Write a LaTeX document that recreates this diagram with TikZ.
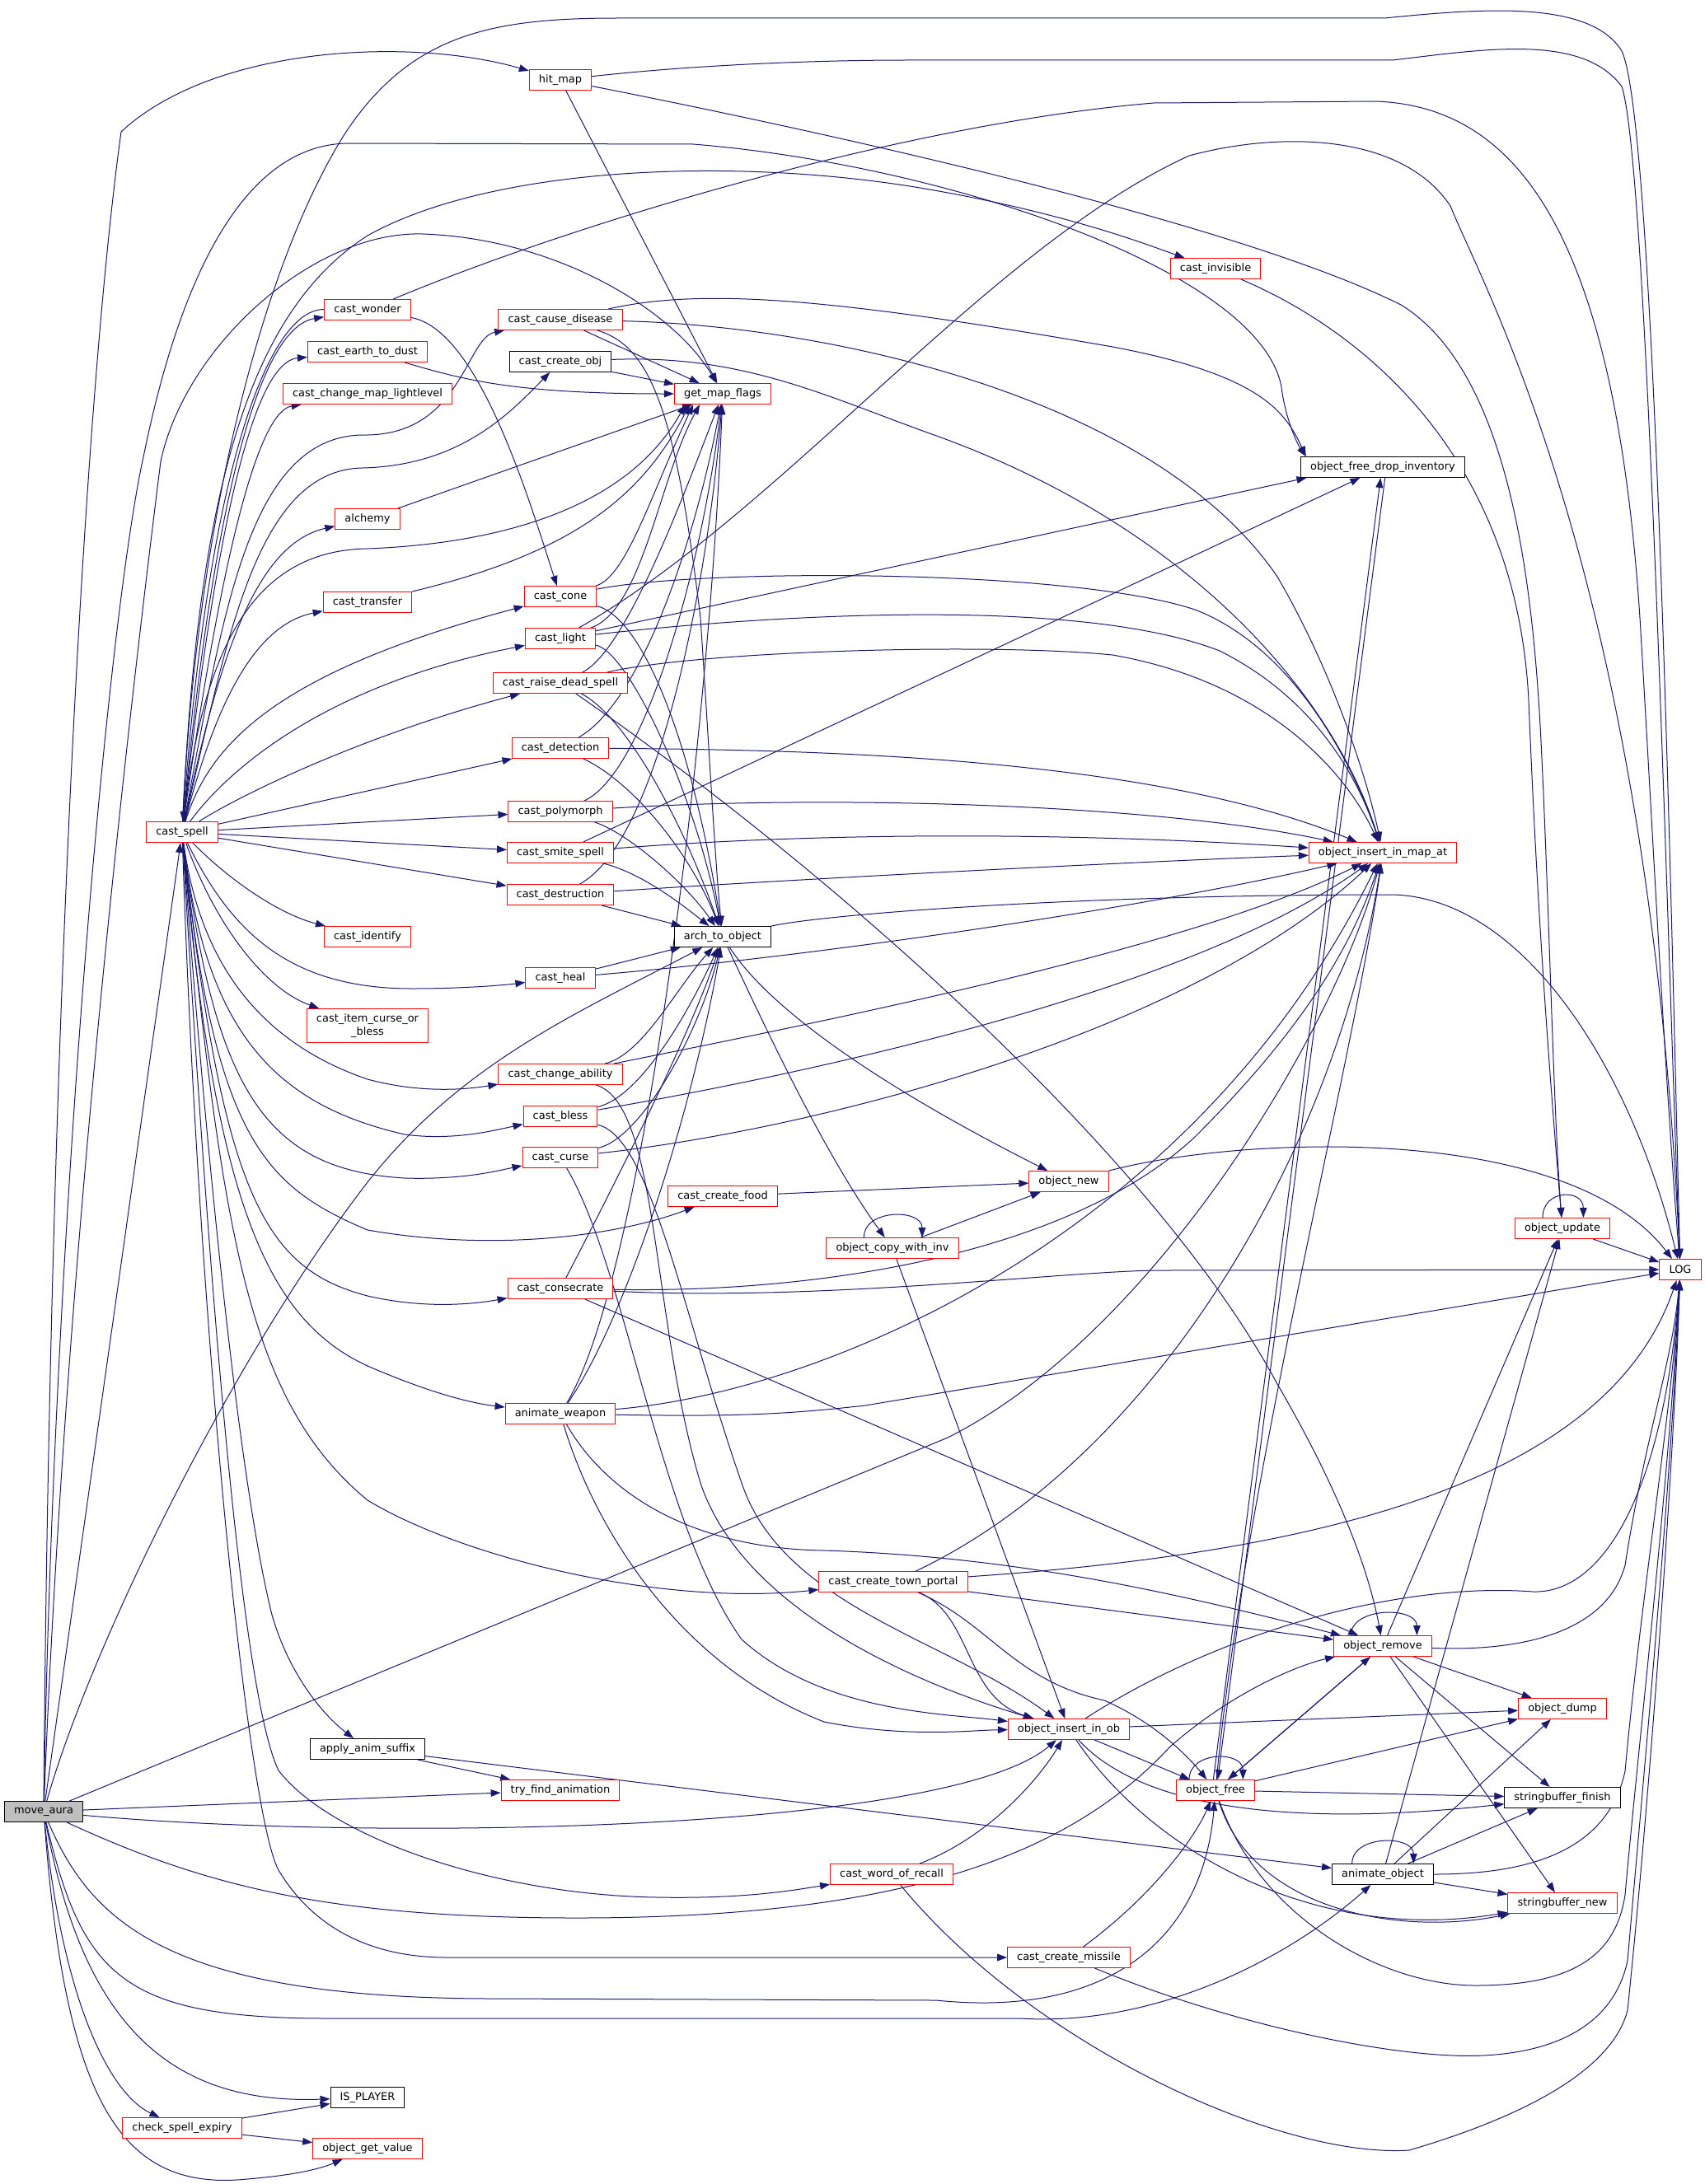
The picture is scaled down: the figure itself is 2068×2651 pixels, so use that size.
\documentclass[tikz,border=0pt]{standalone}
\usepackage{fontspec}
\setmainfont{DejaVu Sans}
\usepackage{tikz}
\usetikzlibrary{arrows.meta}
\pgfdeclarelayer{bg}
\pgfsetlayers{bg,main}
\definecolor{callblue}{RGB}{25,25,112}
\tikzset{
  fn/.style={draw=red, fill=white, line width=0.75pt, minimum height=18.75pt,
    inner xsep=8.7pt, inner ysep=1pt, font=\fontsize{9.7}{11.5}\selectfont},
  fndone/.style={fn, draw=black},
  fnroot/.style={fn, draw=black, fill=black!25},
  call/.style={draw=callblue, line width=0.75pt, -{Triangle[length=9pt,width=6.5pt]}}
}
\begin{document}
\begin{tikzpicture}[x=0.75pt, y=-0.75pt]
  \useasboundingbox (0,0) rectangle (2068,2651);
  \node[fnroot] (aura) at (53,2199) {move\_aura};
  \node[fn] (spell) at (221,1010) {cast\_spell};
  \node[fn] (expiry) at (221,2583) {check\_spell\_expiry};
  \node[fn] (wonder) at (446,376) {cast\_wonder};
  \node[fn] (earth) at (446,427) {cast\_earth\_to\_dust};
  \node[fn] (lightlvl) at (446,478) {cast\_change\_map\_lightlevel};
  \node[fn] (alchemy) at (446,630) {alchemy};
  \node[fn] (transfer) at (446,731) {cast\_transfer};
  \node[fn] (identify) at (446,1137) {cast\_identify};
  \node[fn, align=center, minimum height=30.75pt] (itemcurse) at (446,1245) {cast\_item\_curse\_or\\\_bless};
  \node[fndone] (animsuffix) at (446,2123) {apply\_anim\_suffix};
  \node[fndone] (isplayer) at (446,2546) {IS\_PLAYER};
  \node[fn] (getvalue) at (446,2608) {object\_get\_value};
  \node[fn] (hitmap) at (680,97) {hit\_map};
  \node[fn] (disease) at (680,388) {cast\_cause\_disease};
  \node[fndone] (createobj) at (680,439) {cast\_create\_obj};
  \node[fn] (cone) at (680,724) {cast\_cone};
  \node[fn] (light) at (680,775) {cast\_light};
  \node[fn] (raise) at (680,829) {cast\_raise\_dead\_spell};
  \node[fn] (detect) at (680,908) {cast\_detection};
  \node[fn] (poly) at (680,985) {cast\_polymorph};
  \node[fn] (smite) at (680,1035) {cast\_smite\_spell};
  \node[fn] (destruct) at (680,1086) {cast\_destruction};
  \node[fn] (heal) at (680,1187) {cast\_heal};
  \node[fn] (chability) at (680,1304) {cast\_change\_ability};
  \node[fn] (bless) at (680,1355) {cast\_bless};
  \node[fn] (curse) at (680,1405) {cast\_curse};
  \node[fn] (consec) at (680,1564) {cast\_consecrate};
  \node[fn] (animweap) at (680,1716) {animate\_weapon};
  \node[fn] (findanim) at (680,2173) {try\_find\_animation};
  \node[fn] (mapflags) at (877,478) {get\_map\_flags};
  \node[fndone] (arch) at (877,1137) {arch\_to\_object};
  \node[fn] (food) at (877,1452) {cast\_create\_food};
  \node[fn] (copyinv) at (1083,1515) {object\_copy\_with\_inv};
  \node[fn] (portal) at (1084,1920) {cast\_create\_town\_portal};
  \node[fn] (recall) at (1082,2275) {cast\_word\_of\_recall};
  \node[fn] (onew) at (1297,1434) {object\_new};
  \node[fn] (inob) at (1297,2099) {object\_insert\_in\_ob};
  \node[fn] (missile) at (1297,2376) {cast\_create\_missile};
  \node[fn] (invis) at (1475,326) {cast\_invisible};
  \node[fn] (ofree) at (1475,2173) {object\_free};
  \node[fndone] (dropinv) at (1678,567) {object\_free\_drop\_inventory};
  \node[fn] (inmap) at (1678,1035) {object\_insert\_in\_map\_at};
  \node[fn] (oremove) at (1678,1998) {object\_remove};
  \node[fndone] (animobj) at (1678,2275) {animate\_object};
  \node[fn] (oupdate) at (1896,1491) {object\_update};
  \node[fn] (odump) at (1896,2074) {object\_dump};
  \node[fndone] (sbfinish) at (1896,2182) {stringbuffer\_finish};
  \node[fn] (sbnew) at (1896,2310) {stringbuffer\_new};
  \node[fn] (log) at (2039,1541) {LOG};

  \begin{pgfonlayer}{bg}
  \fill[white] (0,0) rectangle (2068,2651);
  % move_aura
  \draw[call] (aura) -- (spell);
  \draw[call] (aura) .. controls (60,1300) and (100,500) .. (147,160) .. controls (260,55) and (500,45) .. (hitmap);
  \draw[call] (aura) .. controls (80,1500) and (165,800) .. (195,560) .. controls (225,420) and (380,280) .. (513,284) .. controls (680,290) and (820,380) .. (mapflags);
  \draw[call] (aura) .. controls (65,1500) and (130,750) .. (175,550) .. controls (210,380) and (280,174) .. (424,174) -- (841,175) .. controls (1150,200) and (1530,330) .. (1555,470) .. controls (1560,510) and (1575,540) .. ([xshift=5pt]dropinv.north west);
  \draw[call] (aura) .. controls (110,2000) and (280,1650) .. (446,1435) .. controls (560,1290) and (700,1230) .. (arch);
  \draw[call] (aura) -- (1150,1745) .. controls (1400,1620) and (1620,1250) .. (inmap);
  \draw[call] (aura) -- (findanim);
  \draw[call] (aura) .. controls (450,2235) and (1150,2225) .. (inob);
  \draw[call] (aura) .. controls (250,2290) and (400,2328) .. (700,2328) .. controls (1100,2328) and (1300,2250) .. (1420,2120) .. controls (1500,2050) and (1580,2020) .. (oremove);
  \draw[call] (aura) .. controls (110,2330) and (200,2426) .. (600,2426) -- (1136,2428) .. controls (1350,2450) and (1460,2350) .. (ofree);
  \draw[call] (aura) .. controls (100,2400) and (150,2450) .. (400,2450) -- (1238,2450) .. controls (1400,2460) and (1560,2380) .. (animobj);
  \draw[call] (aura) .. controls (100,2450) and (200,2555) .. (isplayer);
  \draw[call] (aura) .. controls (75,2420) and (130,2540) .. (expiry);
  \draw[call] (aura) .. controls (80,2560) and (150,2660) .. (300,2645) .. controls (360,2640) and (390,2632) .. (getvalue);
  \draw[call] (expiry) -- (isplayer);
  \draw[call] (expiry) -- (getvalue);
  % cast_spell
  \draw[call] (spell) .. controls (250,700) and (300,400) .. (wonder);
  \draw[call] (wonder) .. controls (330,375) and (255,550) .. (spell);
  \draw[call] (spell) .. controls (255,700) and (300,440) .. (earth);
  \draw[call] (spell) .. controls (265,700) and (310,500) .. (lightlvl);
  \draw[call] (spell) .. controls (270,750) and (300,530) .. (440,528) .. controls (560,530) and (565,410) .. (disease);
  \draw[call] (spell) .. controls (275,780) and (310,570) .. (440,568) .. controls (560,565) and (620,500) .. (createobj);
  \draw[call] (spell) .. controls (245,800) and (300,668) .. (446,666) .. controls (600,660) and (760,620) .. (mapflags.196);
  \draw[call] (spell) .. controls (265,800) and (310,660) .. (alchemy);
  \draw[call] (spell) .. controls (255,880) and (300,760) .. (transfer);
  \draw[call] (spell) .. controls (255,900) and (340,815) .. (cone);
  \draw[call] (spell) .. controls (280,930) and (400,830) .. (light);
  \draw[call] (spell) .. controls (300,960) and (450,890) .. (raise);
  \draw[call] (spell) -- (detect);
  \draw[call] (spell) -- (poly);
  \draw[call] (spell) -- (smite);
  \draw[call] (spell) -- (destruct);
  \draw[call] (spell) .. controls (280,1070) and (340,1110) .. (identify);
  \draw[call] (spell) .. controls (280,1130) and (350,1200) .. (500,1200) .. controls (560,1200) and (610,1196) .. (heal);
  \draw[call] (spell) .. controls (260,1120) and (320,1200) .. (itemcurse);
  \draw[call] (spell) .. controls (240,1150) and (300,1260) .. (446,1310) .. controls (520,1330) and (580,1320) .. (chability);
  \draw[call] (spell) .. controls (250,1250) and (330,1340) .. (491,1377) .. controls (550,1385) and (600,1372) .. (bless);
  \draw[call] (spell) .. controls (260,1320) and (320,1420) .. (491,1430) .. controls (560,1432) and (600,1422) .. (curse);
  \draw[call] (spell) .. controls (260,1380) and (320,1440) .. (446,1493) .. controls (600,1520) and (750,1500) .. (food);
  \draw[call] (spell) .. controls (270,1450) and (320,1540) .. (446,1573) .. controls (520,1590) and (580,1582) .. (consec);
  \draw[call] (spell) .. controls (260,1450) and (320,1600) .. (446,1658) .. controls (520,1690) and (570,1703) .. (animweap);
  \draw[call] (spell) .. controls (270,1500) and (300,1700) .. (446,1821) .. controls (560,1890) and (800,1950) .. (portal);
  \draw[call] (spell) .. controls (250,1400) and (290,1800) .. (330,1960) .. controls (350,2030) and (390,2080) .. (animsuffix);
  \draw[call] (spell) .. controls (250,1500) and (290,2050) .. (338,2149) .. controls (400,2230) and (600,2300) .. (797,2303) .. controls (900,2305) and (960,2295) .. (recall);
  \draw[call] (spell) .. controls (240,1600) and (300,2200) .. (338,2270) .. controls (380,2340) and (450,2376) .. (542,2376) -- (missile);
  \draw[call] (spell) .. controls (240,600) and (300,380) .. (446,286) .. controls (600,200) and (900,190) .. (1128,230) .. controls (1300,260) and (1400,300) .. (invis);
  \draw[call] (spell) .. controls (240,600) and (330,300) .. (420,160) .. controls (500,40) and (600,22) .. (750,22) -- (1680,22) .. controls (1800,10) and (1930,0) .. (1968,62) .. controls (2010,150) and (2030,1200) .. (log);
  % hit_map, cast_wonder
  \draw[call] (hitmap) .. controls (850,78) and (1000,73) .. (1100,73) -- (1690,73) .. controls (1800,60) and (1920,40) .. (1968,105) .. controls (2000,200) and (2025,1200) .. (log);
  \draw[call] (hitmap) -- (mapflags);
  \draw[call] (hitmap) .. controls (1000,160) and (1500,270) .. (1700,370) .. controls (1830,450) and (1860,700) .. (1870,900) .. controls (1880,1100) and (1885,1350) .. (oupdate);
  \draw[call] (wonder) .. controls (700,270) and (1100,150) .. (1400,125) -- (1670,123) .. controls (1850,130) and (1960,300) .. (1990,750) .. controls (2005,1000) and (2020,1300) .. (log);
  \draw[call] (wonder) .. controls (580,400) and (640,600) .. (cone);
  % get_map_flags
  \draw[call] (earth) .. controls (560,460) and (620,478) .. (mapflags);
  \draw[call] (alchemy) -- (mapflags);
  \draw[call] (transfer) .. controls (700,670) and (780,600) .. (mapflags.198);
  \draw[call] (disease) -- (mapflags);
  \draw[call] (createobj) -- (mapflags);
  \draw[call] (cone) .. controls (760,700) and (790,600) .. (mapflags.200);
  \draw[call] (light) .. controls (780,740) and (800,580) .. (mapflags.205);
  \draw[call] (raise) .. controls (760,790) and (830,600) .. (mapflags);
  \draw[call] (detect) .. controls (780,850) and (845,650) .. (mapflags);
  \draw[call] (poly) .. controls (780,940) and (850,700) .. (mapflags);
  \draw[call] (destruct) .. controls (800,1020) and (860,700) .. (mapflags);
  \draw[call] (animweap) .. controls (780,1550) and (860,900) .. (mapflags);
  % spells
  \draw[call] (disease) .. controls (850,350) and (1000,360) .. (1350,421) .. controls (1530,455) and (1560,500) .. ([xshift=5pt]dropinv.north west);
  \draw[call] (disease) .. controls (1000,395) and (1400,480) .. (1550,700) .. controls (1620,820) and (1660,950) .. (inmap);
  \draw[call] (disease) .. controls (790,420) and (820,500) .. (850,750) .. controls (860,900) and (868,1050) .. (arch);
  \draw[call] (createobj) .. controls (900,430) and (1000,480) .. (1128,526) .. controls (1450,640) and (1620,850) .. (inmap);
  \draw[call] (cone) .. controls (780,750) and (840,900) .. (arch);
  \draw[call] (cone) .. controls (850,690) and (1300,690) .. (1450,740) .. controls (1580,790) and (1650,950) .. (inmap);
  \draw[call] (light) .. controls (950,620) and (1200,300) .. (1443,189) .. controls (1550,160) and (1700,160) .. (1760,250) .. controls (1800,350) and (2000,700) .. (log);
  \draw[call] (light) -- (dropinv.188);
  \draw[call] (light) .. controls (760,790) and (840,950) .. (arch);
  \draw[call] (light) .. controls (900,750) and (1300,720) .. (1480,790) .. controls (1600,850) and (1650,950) .. (inmap);
  \draw[call] (raise) .. controls (760,870) and (830,1000) .. (arch);
  \draw[call] (raise) .. controls (1000,1050) and (1400,1400) .. (1550,1680) .. controls (1620,1800) and (1660,1900) .. (oremove);
  \draw[call] (raise) .. controls (850,790) and (1200,780) .. (1350,795) .. controls (1550,830) and (1640,950) .. (inmap);
  \draw[call] (detect) .. controls (770,950) and (840,1040) .. (arch);
  \draw[call] (detect) .. controls (1000,910) and (1400,920) .. (inmap);
  \draw[call] (poly) .. controls (760,1010) and (830,1070) .. (arch);
  \draw[call] (poly) .. controls (1000,965) and (1400,975) .. (inmap);
  \draw[call] (smite) -- (dropinv);
  \draw[call] (smite) .. controls (780,1060) and (830,1100) .. (arch);
  \draw[call] (smite) .. controls (1000,1010) and (1300,1010) .. (inmap);
  \draw[call] (destruct) -- (arch);
  \draw[call] (destruct) .. controls (1000,1065) and (1400,1045) .. (inmap);
  \draw[call] (heal) -- (arch);
  \draw[call] (heal) .. controls (1000,1160) and (1400,1100) .. (inmap);
  \draw[call] (chability) .. controls (780,1280) and (820,1200) .. (arch);
  \draw[call] (chability) .. controls (1000,1240) and (1450,1150) .. (inmap);
  \draw[call] (chability) .. controls (800,1340) and (790,1600) .. (850,1800) .. controls (900,1950) and (1100,2040) .. (inob);
  \draw[call] (bless) .. controls (780,1330) and (840,1220) .. (arch);
  \draw[call] (bless) .. controls (1000,1300) and (1450,1200) .. (inmap);
  \draw[call] (bless) .. controls (790,1380) and (830,1600) .. (900,1800) .. controls (950,1950) and (1150,1990) .. (inob);
  \draw[call] (curse) .. controls (780,1380) and (850,1250) .. (arch);
  \draw[call] (curse) .. controls (1000,1370) and (1450,1250) .. (inmap);
  \draw[call] (curse) .. controls (760,1540) and (800,1850) .. (900,1990) .. controls (1000,2080) and (1150,2080) .. (inob);
  \draw[call] (consec) .. controls (750,1430) and (840,1250) .. (arch);
  \draw[call] (consec) .. controls (1000,1570) and (1300,1520) .. (1450,1380) .. controls (1580,1250) and (1640,1150) .. (inmap);
  \draw[call] (consec) .. controls (1000,1580) and (1300,1542) .. (1409,1542) -- (log);
  \draw[call] (consec) -- (oremove);
  \draw[call] (animweap) .. controls (760,1600) and (840,1350) .. (arch);
  \draw[call] (animweap) .. controls (1000,1690) and (1450,1500) .. (inmap);
  \draw[call] (animweap) .. controls (900,1720) and (960,1716) .. (1050,1706) -- (log);
  \draw[call] (animweap) .. controls (740,1820) and (850,1880) .. (1000,1882) .. controls (1250,1890) and (1450,1940) .. (oremove);
  \draw[call] (animweap) .. controls (720,1850) and (820,2020) .. (1000,2090) .. controls (1100,2110) and (1180,2100) .. (inob);
  \draw[call] (animsuffix) -- (findanim);
  \draw[call] (animsuffix) -- (animobj);
  % objects
  \draw[call] (food) -- (onew);
  \draw[call] (arch) .. controls (950,1250) and (1150,1360) .. (onew);
  \draw[call] (arch) .. controls (930,1250) and (1000,1400) .. (copyinv);
  \draw[call] (arch) .. controls (1000,1110) and (1300,1086) .. (1690,1086) .. controls (1850,1090) and (1980,1300) .. (log);
  \draw[call] (copyinv) -- (onew);
  \draw[call] ([xshift=-26pt]copyinv.north) .. controls +(0,-35) and +(0,-35) .. ([xshift=27pt]copyinv.north);
  \draw[call] (copyinv) -- (inob);
  \draw[call] (onew) .. controls (1500,1380) and (1900,1360) .. (log);
  \draw[call] (oupdate) -- (log);
  \draw[call] ([xshift=-18pt]oupdate.north) .. controls +(0,-35) and +(0,-35) .. ([xshift=19pt]oupdate.north);
  \draw[call] (invis) .. controls (1650,400) and (1840,550) .. (1855,850) .. controls (1865,1100) and (1880,1300) .. (oupdate);
  \draw[call] (portal) .. controls (1600,1885) and (1950,1800) .. (log);
  \draw[call] (portal) -- (oremove);
  \draw[call] (portal) .. controls (1180,1960) and (1170,2060) .. (inob);
  \draw[call] (portal) .. controls (1200,1970) and (1230,2040) .. (1340,2064) .. controls (1400,2090) and (1440,2130) .. (ofree);
  \draw[call] (portal) .. controls (1400,1770) and (1620,1400) .. (inmap);
  \draw[call] (inob) -- (odump);
  \draw[call] (inob) -- (ofree);
  \draw[call] (inob) .. controls (1380,2190) and (1550,2220) .. (sbfinish);
  \draw[call] (inob) .. controls (1400,2250) and (1600,2360) .. (sbnew);
  \draw[call] (inob) .. controls (1480,1980) and (1700,1920) .. (1860,1932) .. controls (1950,1935) and (2020,1800) .. (log);
  \draw[call] (recall) .. controls (1200,2230) and (1260,2160) .. (inob);
  \draw[call] (recall) .. controls (1250,2480) and (1550,2620) .. (1710,2610) .. controls (1880,2560) and (1960,2500) .. (1975,2440) .. controls (2000,2200) and (2030,1800) .. (log);
  \draw[call] (missile) .. controls (1400,2300) and (1450,2230) .. (ofree);
  \draw[call] (missile) .. controls (1500,2460) and (1700,2500) .. (1800,2495) .. controls (1900,2490) and (1960,2450) .. (1975,2380) .. controls (1995,2150) and (2028,1800) .. (log);
  \draw[call] ([xshift=-24pt]ofree.north) .. controls +(0,-35) and +(0,-35) .. ([xshift=25pt]ofree.north);
  \draw[call] ([xshift=-2pt]ofree.north) -- ([xshift=-2pt]dropinv.south);
  \draw[call] ([xshift=2pt]dropinv.south) -- ([xshift=2pt]ofree.north);
  \draw[call] (ofree) .. controls (1510,1800) and (1640,1300) .. (inmap);
  \draw[call] (ofree) -- (oremove);
  \draw[call] (ofree) -- (odump);
  \draw[call] (ofree) -- (sbfinish);
  \draw[call] (ofree) .. controls (1520,2320) and (1700,2350) .. (sbnew);
  \draw[call] (ofree) .. controls (1530,2330) and (1680,2410) .. (1790,2410) .. controls (1900,2410) and (1960,2380) .. (1972,2300) .. controls (1990,2100) and (2025,1800) .. (log);
  \draw[call] ([xshift=-29pt]oremove.north) .. controls +(0,-35) and +(0,-35) .. ([xshift=31pt]oremove.north);
  \draw[call] (oremove) -- (ofree);
  \draw[call] (oremove) -- (oupdate);
  \draw[call] (oremove) -- (odump);
  \draw[call] (oremove) -- (sbfinish);
  \draw[call] (oremove) -- (sbnew);
  \draw[call] (oremove) .. controls (1850,2005) and (1950,1980) .. (1972,1900) .. controls (1995,1750) and (2030,1650) .. (log);
  \draw[call] ([xshift=-28pt]animobj.north) .. controls +(0,-35) and +(0,-35) .. ([xshift=28pt]animobj.north);
  \draw[call] (animobj) -- (oupdate);
  \draw[call] (animobj) -- (odump);
  \draw[call] (animobj) -- (sbfinish);
  \draw[call] (animobj) -- (sbnew);
  \draw[call] (animobj) .. controls (1850,2275) and (1950,2250) .. (1972,2150) .. controls (1990,1950) and (2030,1700) .. (log);
  \end{pgfonlayer}
\end{tikzpicture}
\end{document}
